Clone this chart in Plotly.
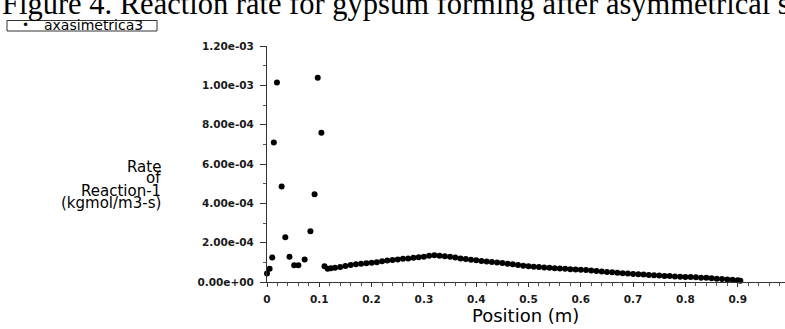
import plotly.graph_objects as go

# ---------------- data ----------------
series_name = "axasimetrica3"

position_m = [
    0.000, 0.005, 0.010, 0.013, 0.019, 0.028, 0.035, 0.043, 0.052, 0.060,
    0.072, 0.083, 0.091, 0.097, 0.104, 0.110, 0.116, 0.122,
    0.13, 0.14, 0.15, 0.16, 0.17, 0.18, 0.19, 0.20, 0.21, 0.22,
    0.23, 0.24, 0.25, 0.26, 0.27, 0.28, 0.29, 0.30, 0.31, 0.32,
    0.33, 0.34, 0.35, 0.36, 0.37, 0.38, 0.39, 0.40, 0.41, 0.42,
    0.43, 0.44, 0.45, 0.46, 0.47, 0.48, 0.49, 0.50, 0.51, 0.52,
    0.53, 0.54, 0.55, 0.56, 0.57, 0.58, 0.59, 0.60, 0.61, 0.62,
    0.63, 0.64, 0.65, 0.66, 0.67, 0.68, 0.69, 0.70, 0.71, 0.72,
    0.73, 0.74, 0.75, 0.76, 0.77, 0.78, 0.79, 0.80, 0.81, 0.82,
    0.83, 0.84, 0.85, 0.86, 0.87, 0.88, 0.89, 0.90, 0.905,
]

rate_kgmol_m3_s = [
    4.3e-05, 6.7e-05, 1.24e-04, 7.09e-04, 1.014e-03, 4.85e-04, 2.27e-04, 1.28e-04, 8.5e-05, 8.5e-05,
    1.14e-04, 2.58e-04, 4.46e-04, 1.039e-03, 7.59e-04, 8.0e-05, 6.8e-05, 7.0e-05,
    7.2e-05, 7.6e-05, 8.1e-05, 8.6e-05, 9.0e-05, 9.3e-05, 9.5e-05, 9.8e-05, 1.01e-04, 1.05e-04,
    1.09e-04, 1.12e-04, 1.15e-04, 1.18e-04, 1.20e-04, 1.23e-04, 1.26e-04, 1.29e-04, 1.33e-04, 1.36e-04,
    1.34e-04, 1.31e-04, 1.28e-04, 1.24e-04, 1.20e-04, 1.17e-04, 1.13e-04, 1.10e-04, 1.07e-04, 1.04e-04,
    1.02e-04, 9.9e-05, 9.6e-05, 9.3e-05, 9.0e-05, 8.6e-05, 8.3e-05, 8.0e-05, 7.8e-05, 7.6e-05,
    7.4e-05, 7.2e-05, 7.0e-05, 6.9e-05, 6.7e-05, 6.5e-05, 6.4e-05, 6.2e-05, 6.1e-05, 5.9e-05,
    5.6e-05, 5.3e-05, 5.1e-05, 4.9e-05, 4.7e-05, 4.5e-05, 4.3e-05, 4.1e-05, 3.9e-05, 3.8e-05,
    3.6e-05, 3.4e-05, 3.3e-05, 3.1e-05, 3.0e-05, 2.8e-05, 2.7e-05, 2.6e-05, 2.5e-05, 2.4e-05,
    2.2e-05, 2.1e-05, 1.9e-05, 1.7e-05, 1.5e-05, 1.3e-05, 1.1e-05, 9.0e-06, 6.0e-06,
]

x_tick_values = [0, 0.1, 0.2, 0.3, 0.4, 0.5, 0.6, 0.7, 0.8, 0.9, 1.0]
x_tick_labels = ["0", "0.1", "0.2", "0.3", "0.4", "0.5", "0.6", "0.7", "0.8", "0.9", "1"]
y_tick_values = [0, 2e-4, 4e-4, 6e-4, 8e-4, 1e-3, 1.2e-3]
y_tick_labels = ["0.00e+00", "2.00e-04", "4.00e-04", "6.00e-04", "8.00e-04", "1.00e-03", "1.20e-03"]

title_text = "Figure 4. Reaction rate for gypsum forming after asymmetrical s"
y_title_lines = ["Rate", "of", "Reaction-1", "(kgmol/m3-s)"]
x_title_text = "Position (m)"

# ---------------- layout geometry ----------------
W, H = 785, 329
L, R, T, B = 267, 0, 46, 47
PW, PH = W - L - R, H - T - B


def fx(px):
    """window x pixel -> paper coordinate"""
    return (px - L) / PW


def fy(py):
    """window y pixel -> paper coordinate"""
    return (T + PH - py) / PH


SANS = "DejaVu Sans"
INK = "#1a1a1a"

fig = go.Figure()
fig.add_trace(go.Scatter(
    x=position_m, y=rate_kgmol_m3_s, mode="markers", name=series_name,
    marker=dict(color="black", size=6, symbol="circle"),
    cliponaxis=False, showlegend=False,
))

tick_font = dict(family=SANS, size=10.5, color=INK, weight="bold")

fig.update_layout(
    width=W, height=H,
    margin=dict(l=L, r=R, t=T, b=B, autoexpand=False),
    paper_bgcolor="white", plot_bgcolor="white",
    xaxis=dict(
        range=[0, PW / 523.0], tickmode="array",
        tickvals=x_tick_values, ticktext=x_tick_labels,
        showgrid=False, zeroline=False, showline=True, linecolor="#333", linewidth=1,
        ticks="outside", ticklen=4, tickcolor="#333", tickfont=tick_font,
        minor=dict(ticks="outside", dtick=0.02, ticklen=3, tickcolor="#555", showgrid=False),
        ticklabelstandoff=3,
    ),
    yaxis=dict(
        range=[0, 1.2e-3], tickmode="array",
        tickvals=y_tick_values, ticktext=y_tick_labels,
        showgrid=False, zeroline=False, showline=True, linecolor="#333", linewidth=1,
        ticks="outside", ticklen=6, tickcolor="#333", tickfont=tick_font,
        minor=dict(ticks="outside", dtick=1e-4, ticklen=3, tickcolor="#555", showgrid=False),
        ticklabelstandoff=4,
    ),
)

ann = []
# page caption (cut at the top in the reference)
ann.append(dict(text=title_text, xref="paper", yref="paper", x=fx(0), y=fy(4.5),
                xanchor="left", yanchor="middle", showarrow=False,
                font=dict(family="Liberation Serif", size=30.5, color="black")))
# legend box
fig.add_shape(type="rect", xref="paper", yref="paper",
              x0=fx(7), x1=fx(157), y0=fy(20.5), y1=fy(31),
              line=dict(color="#333", width=1), fillcolor="white")
ann.append(dict(text="•", xref="paper", yref="paper", x=fx(25), y=fy(25.5),
                xanchor="center", yanchor="middle", showarrow=False,
                font=dict(family=SANS, size=12, color="black")))
ann.append(dict(text=series_name, xref="paper", yref="paper", x=fx(42), y=fy(25.5),
                xanchor="left", yanchor="middle", showarrow=False,
                font=dict(family=SANS, size=14, color="black")))
# y axis title (right aligned, stacked lines)
for line, py in zip(y_title_lines, [166.5, 178, 190.5, 202.5]):
    ann.append(dict(text=line, xref="paper", yref="paper", x=fx(163), y=fy(py),
                    xanchor="right", yanchor="middle", showarrow=False,
                    font=dict(family=SANS, size=15, color="black")))
# x axis title
ann.append(dict(text=x_title_text, xref="paper", yref="paper", x=fx(525), y=fy(315),
                xanchor="center", yanchor="middle", showarrow=False,
                font=dict(family=SANS, size=18, color="black")))
fig.update_layout(annotations=ann)

# the page's default 8 px body margin would shift the figure; remove it
fig.write_html("out.html", config={"displayModeBar": False},
               post_script="document.body.style.margin='0px';")
